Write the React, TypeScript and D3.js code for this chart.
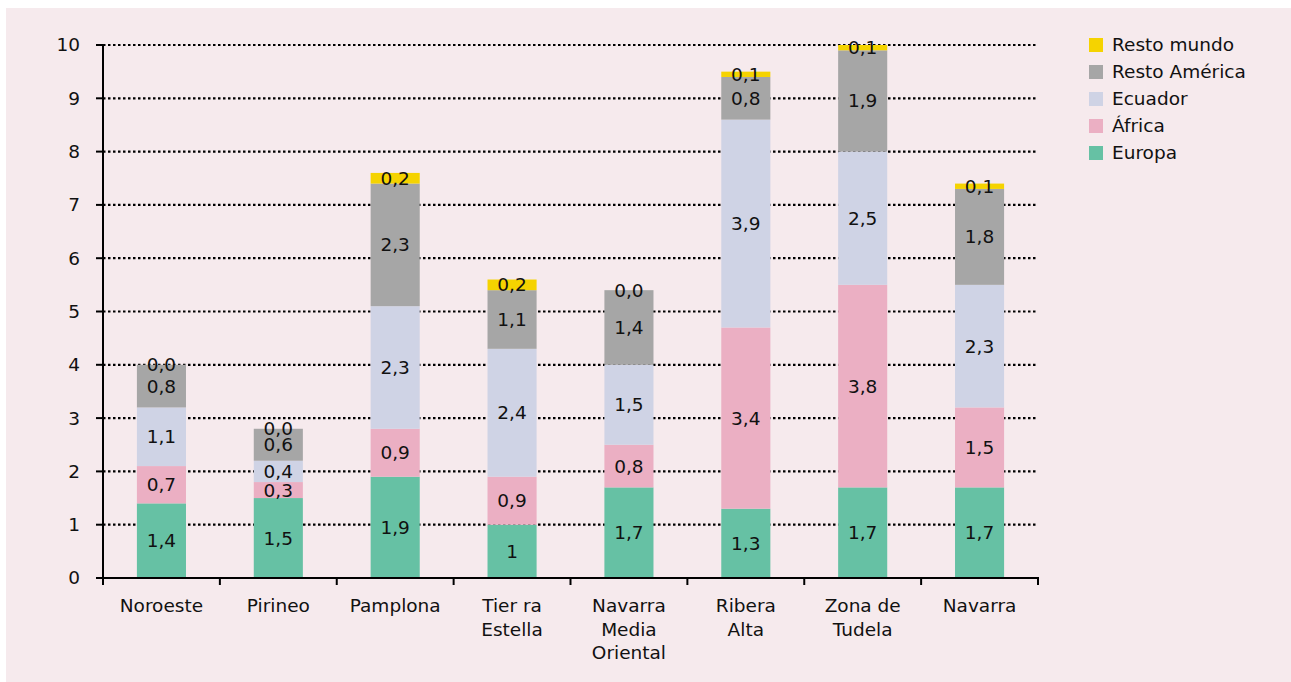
import { useMemo } from "react";
import * as d3 from "d3";

const categories = [
  ["Noroeste"],
  ["Pirineo"],
  ["Pamplona"],
  ["Tier ra", "Estella"],
  ["Navarra", "Media", "Oriental"],
  ["Ribera", "Alta"],
  ["Zona de", "Tudela"],
  ["Navarra"],
];

const seriesNames = ["Europa", "África", "Ecuador", "Resto América", "Resto mundo"];
const seriesColors = ["#66C1A4", "#EBAFC3", "#CFD3E5", "#A6A6A6", "#F5D300"];

const europa = [1.4, 1.5, 1.9, 1.0, 1.7, 1.3, 1.7, 1.7];
const africa = [0.7, 0.3, 0.9, 0.9, 0.8, 3.4, 3.8, 1.5];
const ecuador = [1.1, 0.4, 2.3, 2.4, 1.5, 3.9, 2.5, 2.3];
const restoAmerica = [0.8, 0.6, 2.3, 1.1, 1.4, 0.8, 1.9, 1.8];
const restoMundo = [0.0, 0.0, 0.2, 0.2, 0.0, 0.1, 0.1, 0.1];

const yTicks = [0, 1, 2, 3, 4, 5, 6, 7, 8, 9, 10];

const W = 1291;
const H = 682;
const FONT = "'DejaVu Sans', Verdana, sans-serif";
const FS = 18.5;

function fmt(v: number) {
  if (v === 1) return "1";
  return v.toFixed(1).replace(".", ",");
}

export default function App() {
  const series = [europa, africa, ecuador, restoAmerica, restoMundo];
  const x = d3.scaleBand<number>().domain(d3.range(categories.length)).range([103, 1038]).paddingInner(0.58).paddingOuter(0.29);
  const y = d3.scaleLinear().domain([0, 10]).range([578, 45]);

  const stacked = useMemo(() => {
    const rows = categories.map((_, i) => {
      const r: Record<string, number> = {};
      seriesNames.forEach((n, k) => (r[n] = series[k][i]));
      return r;
    });
    return d3.stack<Record<string, number>>().keys(seriesNames)(rows);
  }, []);

  const step = (1038 - 103) / categories.length;

  return (
    <div style={{ position: "absolute", left: 0, top: 0 }}>
      <svg width={W} height={H} style={{ display: "block", fontFamily: FONT }}>
        <rect x={0} y={0} width={W} height={H} fill="#ffffff" />
        <rect x={6} y={8} width={W - 6} height={H - 8} fill="#F6EAED" />

        {yTicks.map((t) => (
          <g key={t}>
            {t > 0 && (
              <line x1={103} x2={1038} y1={y(t)} y2={y(t)} stroke="#000" strokeWidth={2.2} strokeDasharray="2.5 2.5" />
            )}
            <line x1={96} x2={103} y1={y(t)} y2={y(t)} stroke="#000" strokeWidth={2} />
            <text x={80} y={y(t)} dy="0.35em" textAnchor="end" fontSize={FS} fill="#111">
              {t}
            </text>
          </g>
        ))}

        {stacked.map((layer, k) => (
          <g key={k}>
            {layer.map((d, i) => (
              <rect
                key={i}
                x={x(i)}
                width={x.bandwidth()}
                y={y(d[1])}
                height={Math.max(0, y(d[0]) - y(d[1]))}
                fill={seriesColors[k]}
              />
            ))}
          </g>
        ))}

        {stacked.map((layer, k) => (
          <g key={"l" + k}>
            {layer.map((d, i) => (
              <text
                key={i}
                x={(x(i) ?? 0) + x.bandwidth() / 2}
                y={(y(d[0]) + y(d[1])) / 2}
                dy="0.35em"
                textAnchor="middle"
                fontSize={FS}
                fill="#111"
              >
                {fmt(series[k][i])}
              </text>
            ))}
          </g>
        ))}

        <line x1={103} x2={103} y1={45} y2={579} stroke="#000" strokeWidth={2} />
        <line x1={96} x2={1039} y1={578} y2={578} stroke="#000" strokeWidth={2} />
        {d3.range(categories.length + 1).map((i) => (
          <line key={i} x1={103 + i * step} x2={103 + i * step} y1={578} y2={585} stroke="#000" strokeWidth={2} />
        ))}

        {categories.map((lines, i) => (
          <text key={i} x={103 + step * (i + 0.5)} y={612} textAnchor="middle" fontSize={FS} fill="#111">
            {lines.map((l, j) => (
              <tspan key={j} x={103 + step * (i + 0.5)} dy={j === 0 ? 0 : 23.5}>
                {l}
              </tspan>
            ))}
          </text>
        ))}

        {seriesNames
          .map((n, k) => ({ n, k }))
          .reverse()
          .map(({ n, k }, j) => (
            <g key={n} transform={`translate(1089, ${45 + j * 27})`}>
              <rect x={0} y={-7} width={14} height={14} fill={seriesColors[k]} />
              <text x={23} y={0} dy="0.35em" fontSize={FS} fill="#111">
                {n}
              </text>
            </g>
          ))}
      </svg>
    </div>
  );
}
